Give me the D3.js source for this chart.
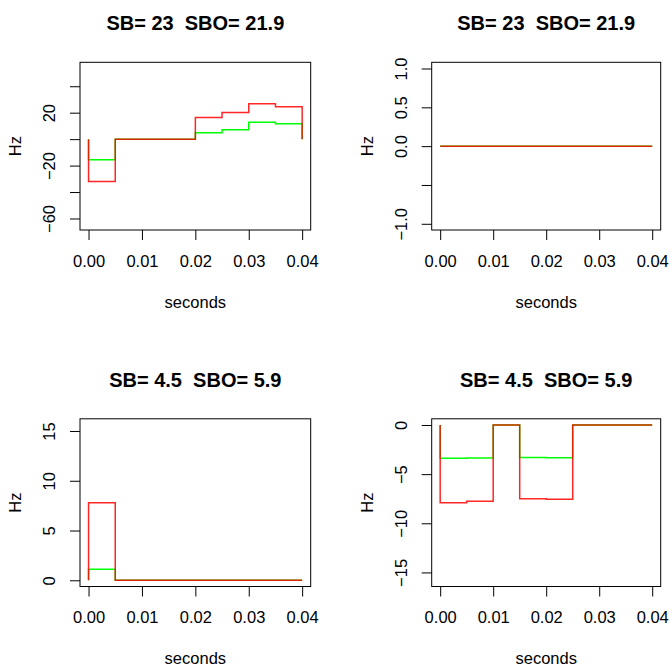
<!DOCTYPE html>
<html>
<head>
<meta charset="utf-8">
<script src="https://cdn.jsdelivr.net/npm/d3@7"></script>
<style>
  body { margin: 0; background: #fff; }
  text { font-family: 'Liberation Sans', Arial, Helvetica, sans-serif; }
</style>
</head>
<body>
<div id="canvas"></div>
<script>
// values, one entry per panel (row by row)
var times = [0, 0.005, 0.01, 0.015, 0.02, 0.025, 0.03, 0.035, 0.04];
var titles = ['SB= 23  SBO= 21.9', 'SB= 23  SBO= 21.9', 'SB= 4.5  SBO= 5.9', 'SB= 4.5  SBO= 5.9'];
var greenValues = [
  [-15.5, 0, 0, 0, 4.8, 7.1, 12.8, 11.6, 0],
  [0, 0, 0, 0, 0, 0, 0, 0, 0],
  [1.1, 0, 0, 0, 0, 0, 0, 0, 0],
  [-3.37, -3.35, 0, -3.3, -3.33, 0, 0, 0, 0]
];
var redValues = [
  [-32, 0, 0, 0, 16.4, 20.1, 26.7, 24.4, 0],
  [0, 0, 0, 0, 0, 0, 0, 0, 0],
  [7.8, 0, 0, 0, 0, 0, 0, 0, 0],
  [-7.9, -7.75, 0, -7.5, -7.55, 0, 0, 0, 0]
];
var yLimits = [[-64, 53.4], [-1, 1], [0, 15.6], [-15.8, 0]];
var yTicks = [[-60, -40, -20, 0, 20, 40], [-1, -0.5, 0, 0.5, 1], [0, 5, 10, 15], [-15, -10, -5, 0]];
var yTickLabels = [
  ['\u221260', '', '\u221220', '', '20', ''],
  ['\u22121.0', '', '0.0', '0.5', '1.0'],
  ['0', '5', '10', '15'],
  ['\u221215', '\u221210', '\u22125', '0']
];
var xTicks = [0, 0.01, 0.02, 0.03, 0.04];
var xTickLabels = ['0.00', '0.01', '0.02', '0.03', '0.04'];
var xLabel = 'seconds';
var yLabel = 'Hz';

(function (d3) {
  var width = 670, height = 666;
  var fontSize = 16.5;
  // plot boxes in pixels
  var boxes = [
    { x: 80, y: 62.3, w: 230.7, h: 167.7 },
    { x: 431.7, y: 62.3, w: 229, h: 167.7 },
    { x: 80, y: 418.8, w: 230.7, h: 167.7 },
    { x: 431.7, y: 418.8, w: 229, h: 167.7 }
  ];

  var svg = d3.select('#canvas')
    .append('svg')
    .attr('width', width)
    .attr('height', height);

  boxes.forEach(drawPanel);

  // R style range: 4% padding on each side
  function padded (lim) {
    var p = (lim[1] - lim[0]) * 0.04;
    return [lim[0] - p, lim[1] + p];
  }

  function drawPanel (box, i) {
    var g = svg.append('g')
      .attr('transform', 'translate(' + box.x + ',' + box.y + ')');

    var x = d3.scaleLinear()
      .domain(padded([times[0], times[times.length - 1]]))
      .range([0, box.w]);
    var y = d3.scaleLinear()
      .domain(padded(yLimits[i]))
      .range([box.h, 0]);

    var line = d3.line()
      .x(function (d) { return x(d.t); })
      .y(function (d) { return y(d.v); })
      .curve(d3.curveStepAfter);

    function points (values) {
      // the step starts from zero at the first time
      return [{ t: times[0], v: 0 }].concat(times.map(function (t, j) {
        return { t: t, v: values[j] };
      }));
    }

    g.append('path')
      .attr('d', line(points(greenValues[i])))
      .attr('fill', 'none')
      .attr('stroke', '#00ff00')
      .attr('stroke-width', 1.5);

    g.append('path')
      .attr('d', line(points(redValues[i])))
      .attr('fill', 'none')
      .attr('stroke', 'rgba(255,0,0,0.85)')
      .attr('stroke-width', 1.5);

    // x axis
    var xAxis = g.append('g')
      .attr('transform', 'translate(0,' + box.h + ')')
      .call(d3.axisBottom(x)
        .tickValues(xTicks)
        .tickFormat(function (d, j) { return xTickLabels[j]; })
        .tickSize(10)
        .tickSizeOuter(0)
        .tickPadding(15));
    styleAxis(xAxis);

    // y axis, labels turned like R does
    var yAxis = g.append('g')
      .call(d3.axisLeft(y)
        .tickValues(yTicks[i])
        .tickFormat(function (d, j) { return yTickLabels[i][j]; })
        .tickSize(10)
        .tickSizeOuter(0));
    styleAxis(yAxis);
    yAxis.selectAll('text')
      .attr('transform', 'rotate(-90)')
      .attr('x', 0)
      .attr('y', -25)
      .attr('dy', null)
      .attr('text-anchor', 'middle');

    g.append('rect')
      .attr('width', box.w)
      .attr('height', box.h)
      .attr('fill', 'none')
      .attr('stroke', '#000')
      .attr('stroke-width', 1);

    g.append('text')
      .attr('x', box.w / 2)
      .attr('y', -32.3)
      .attr('text-anchor', 'middle')
      .attr('xml:space', 'preserve')
      .style('white-space', 'pre')
      .style('font-size', '20px')
      .style('font-weight', 'bold')
      .text(titles[i]);

    g.append('text')
      .attr('x', box.w / 2)
      .attr('y', box.h + 78)
      .attr('text-anchor', 'middle')
      .style('font-size', fontSize + 'px')
      .text(xLabel);

    g.append('text')
      .attr('transform', 'translate(-59,' + (box.h / 2) + ') rotate(-90)')
      .attr('text-anchor', 'middle')
      .style('font-size', fontSize + 'px')
      .text(yLabel);
  }

  function styleAxis (axis) {
    axis.select('.domain').remove();
    axis.selectAll('line').attr('stroke', '#000');
    axis.selectAll('text')
      .attr('fill', '#000')
      .style('font-size', fontSize + 'px')
      .style('font-family', "'Liberation Sans', Arial, Helvetica, sans-serif");
  }
})(window.d3);
</script>
</body>
</html>
